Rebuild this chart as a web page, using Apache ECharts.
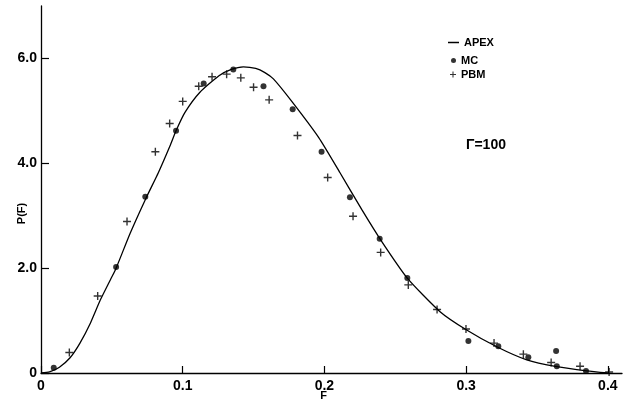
<!DOCTYPE html>
<html>
<head>
<meta charset="utf-8">
<script src="https://cdn.jsdelivr.net/npm/echarts@6/dist/echarts.min.js"></script>
<style>
  html, body { margin: 0; padding: 0; background: #fff; }
  #chart { width: 628px; height: 402px; }
</style>
</head>
<body>
<div id="chart"></div>
<script>
// APEX curve
const apexX = [0, 0.006, 0.013, 0.0205, 0.0275, 0.035, 0.042, 0.049, 0.053, 0.063, 0.074, 0.0828, 0.091, 0.0953, 0.1016, 0.112, 0.1256, 0.1343, 0.1428, 0.1515, 0.158, 0.164, 0.1767, 0.196, 0.211, 0.2263, 0.2392, 0.2585, 0.2816, 0.3004, 0.3216, 0.3428, 0.364, 0.385, 0.4];
const apexY = [0, 0.02, 0.11, 0.29, 0.57, 0.96, 1.40, 1.78, 2.0, 2.67, 3.33, 3.82, 4.33, 4.62, 4.97, 5.35, 5.67, 5.79, 5.84, 5.81, 5.73, 5.61, 5.19, 4.49, 3.82, 3.12, 2.56, 1.81, 1.17, 0.82, 0.50, 0.25, 0.12, 0.04, 0];

// MC points
const mcX = [0.009, 0.053, 0.0736, 0.0953, 0.1148, 0.1357, 0.157, 0.1776, 0.198, 0.218, 0.239, 0.2585, 0.3016, 0.3227, 0.3439, 0.3635, 0.364, 0.3846];
const mcY = [0.10, 2.02, 3.36, 4.62, 5.52, 5.79, 5.47, 5.03, 4.22, 3.35, 2.56, 1.81, 0.61, 0.51, 0.30, 0.42, 0.13, 0.04];

// PBM points
const pbmX = [0.020, 0.040, 0.0607, 0.0807, 0.0908, 0.100, 0.1113, 0.1207, 0.131, 0.141, 0.150, 0.161, 0.181, 0.2023, 0.2202, 0.2397, 0.2592, 0.2795, 0.2999, 0.3197, 0.3404, 0.360, 0.3804, 0.4009];
const pbmY = [0.39, 1.47, 2.89, 4.22, 4.76, 5.18, 5.47, 5.65, 5.70, 5.63, 5.45, 5.21, 4.53, 3.73, 2.99, 2.30, 1.68, 1.21, 0.84, 0.57, 0.36, 0.20, 0.13, 0.02];

// ticks
const xTicks = [0, 0.1, 0.2, 0.3, 0.4];
const yTicks = [0, 2, 4, 6];

const plusPath = 'path://M3.3,0h1.4v8h-1.4zM0,3.3h8v1.4h-8z';
const font = 'Liberation Sans';

function pairs(xs, ys) {
  return xs.map((x, i) => [x, ys[i]]);
}

let chart = echarts.init(document.getElementById('chart'));

let legendText = { fontFamily: font, fontWeight: 'bold', fontSize: 11, color: '#000' };

let option = {
  animation: false,
  backgroundColor: '#fff',
  grid: { left: 41, right: 6, top: 6, bottom: 29, outerBoundsMode: 'none' },
  title: {
    text: 'Γ=100',
    left: 466,
    top: 138,
    padding: 0,
    textStyle: { fontFamily: font, fontWeight: 'bold', fontSize: 14, color: '#000' }
  },
  legend: [
    {
      data: ['APEX'], orient: 'vertical', left: 448, top: 37, padding: 0,
      icon: 'rect', itemWidth: 11, itemHeight: 1.5, textStyle: legendText
    },
    {
      data: ['MC'], orient: 'vertical', left: 451, top: 55, padding: 0,
      icon: 'circle', itemWidth: 5, itemHeight: 5, textStyle: legendText
    },
    {
      data: ['PBM'], orient: 'vertical', left: 450, top: 69, padding: 0,
      icon: plusPath, itemWidth: 6, itemHeight: 6, textStyle: legendText
    }
  ],
  xAxis: {
    type: 'value',
    min: 0,
    max: 0.41,
    name: 'F',
    nameLocation: 'middle',
    nameGap: 17,
    nameMoveOverlap: false,
    nameTextStyle: { fontFamily: font, fontWeight: 'bold', fontSize: 11, color: '#000', padding: [0, 16, 0, 0] },
    axisLine: { lineStyle: { color: '#000', width: 1.3 } },
    axisTick: { inside: true, length: 7, customValues: xTicks, lineStyle: { color: '#000', width: 1.2 } },
    axisLabel: {
      customValues: xTicks,
      margin: 6,
      fontFamily: font, fontWeight: 'bold', fontSize: 14, color: '#000',
      formatter: (v) => v === 0 ? '0' : v.toFixed(1)
    },
    splitLine: { show: false }
  },
  yAxis: {
    type: 'value',
    min: 0,
    max: 7,
    name: 'P(F)',
    nameLocation: 'middle',
    nameRotate: 90,
    nameGap: 14,
    nameMoveOverlap: false,
    nameTextStyle: { fontFamily: font, fontWeight: 'bold', fontSize: 11, color: '#000', padding: [0, 48, 0, 0] },
    axisLine: { lineStyle: { color: '#000', width: 1.3 } },
    axisTick: { inside: true, length: 8, customValues: yTicks, lineStyle: { color: '#000', width: 1.2 } },
    axisLabel: {
      customValues: yTicks,
      margin: 4,
      fontFamily: font, fontWeight: 'bold', fontSize: 14, color: '#000',
      formatter: (v) => v === 0 ? '0' : v.toFixed(1)
    },
    splitLine: { show: false }
  },
  series: [
    {
      name: 'APEX',
      type: 'line',
      data: pairs(apexX, apexY),
      smooth: 0.2,
      showSymbol: false,
      lineStyle: { color: '#000', width: 1.3 },
      itemStyle: { color: '#000' }
    },
    {
      name: 'MC',
      type: 'scatter',
      data: pairs(mcX, mcY),
      symbol: 'circle',
      symbolSize: 6,
      itemStyle: { color: '#000' }
    },
    {
      name: 'PBM',
      type: 'scatter',
      data: pairs(pbmX, pbmY),
      symbol: plusPath,
      symbolSize: 8,
      itemStyle: { color: '#000' }
    }
  ]
};

chart.setOption(option);
</script>
</body>
</html>
